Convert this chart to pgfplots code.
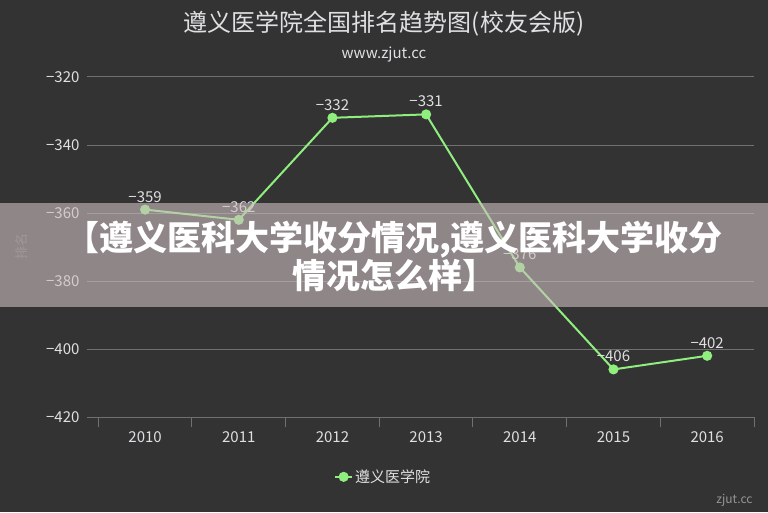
\documentclass[border=0pt]{standalone}
\usepackage{fontspec}
\setmainfont{Noto Sans CJK SC}
\usepackage{pgfplots}
\pgfplotsset{compat=1.18}
\definecolor{bg}{HTML}{333333}
\definecolor{gridc}{HTML}{707070}
\definecolor{ser}{HTML}{90EE7E}
\definecolor{txt}{HTML}{E0E0E3}
\definecolor{bandc}{RGB}{205,190,192}
\definecolor{ylab}{HTML}{5E5E5E}
\begin{document}
\begin{tikzpicture}[x=1pt,y=1pt]
\useasboundingbox (0,0) rectangle (768,512);
\fill[bg] (0,0) rectangle (768,512);
\node[txt, font=\fontsize{24}{27}\selectfont] at (384,488) {遵义医学院全国排名趋势图(校友会版)};
\node[txt, font=\fontsize{15}{18}\selectfont] at (384,457) {www.zjut.cc};
\node[ylab, rotate=90, font=\fontsize{13}{15}\selectfont] at (22,265) {排名};
\begin{axis}[
  at={(87pt,95pt)}, anchor=south west,
  scale only axis, width=667pt, height=340pt,
  xmin=-0.62, xmax=6.5, ymin=-420, ymax=-320,
  ytick={-420,-400,-380,-360,-340,-320},
  yticklabels={−420,−400,−380,−360,−340,−320},
  xtick={0,1,2,3,4,5,6},
  xticklabels={2010,2011,2012,2013,2014,2015,2016},
  minor xtick={-0.5,0.5,1.5,2.5,3.5,4.5,5.5,6.5},
  xtick pos=bottom, ytick pos=left,
  tick align=outside,
  major tick length=0pt,
  minor tick length=10pt,
  tick style={gridc, line width=1pt},
  axis line style={draw=none},
  ymajorgrids,
  grid style={gridc, line width=1pt},
  ticklabel style={txt, font=\fontsize{15}{18}\selectfont},
  yticklabel style={xshift=-4pt},
  xticklabel style={yshift=-11pt},
  clip=false,
  legend style={at={(0.444,-0.176)}, anchor=center, draw=none, fill=none,
    text=txt, font=\fontsize{15}{18}\selectfont},
  legend cell align=left,
]
\addplot[ser, line width=2pt, mark=*, mark size=4pt,
  mark options={fill=ser, draw=ser},
  nodes near coords, point meta=explicit symbolic,
  every node near coord/.style={font=\fontsize{15}{18}\selectfont, text=txt, anchor=south, yshift=3pt}]
  coordinates {(0,-359) [−359] (1,-362) [−362] (2,-332) [−332] (3,-331) [−331]
               (4,-376) [−376] (5,-406) [−406] (6,-402) [−402]};
\addlegendentry{遵义医学院}
\end{axis}
\fill[bandc, opacity=0.6] (0,205) rectangle (768,309);
\node[white, font=\fontsize{34}{33}\selectfont\bfseries, align=center] at (394,256) {【遵义医科大学收分情况,遵义医科大学收分\\情况怎么样】};
\node[color={rgb,255:red,150;green,150;blue,150}, font=\fontsize{12}{14}\selectfont, anchor=east] at (756,12) {zjut.cc};
\end{tikzpicture}
\end{document}
